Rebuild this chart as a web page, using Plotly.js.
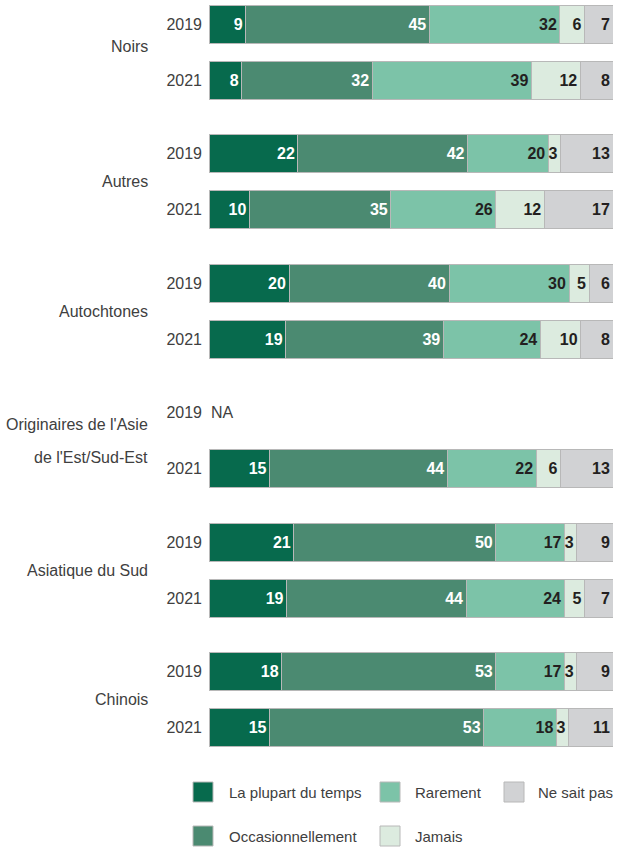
<!DOCTYPE html>
<html>
<head>
<meta charset="utf-8">
<script src="https://cdn.plot.ly/plotly-3.0.1.min.js"></script>
<style>html,body{margin:0;padding:0;background:#fff;}#chart{width:621px;height:848px;}</style>
</head>
<body>
<div id="chart"></div>
<script>
// ---- data ----
const groups = ["Noirs", "Autres", "Autochtones", "Originaires de l'Asie\nde l'Est/Sud-Est", "Asiatique du Sud", "Chinois"];
const years = ["2019", "2021"];
const seriesNames = ["La plupart du temps", "Occasionnellement", "Rarement", "Jamais", "Ne sait pas"];
// rows: group0-2019, group0-2021, group1-2019, ...
const plupart   = [9, 8, 22, 10, 20, 19, null, 15, 21, 19, 18, 15];
const occasion  = [45, 32, 42, 35, 40, 39, null, 44, 50, 44, 53, 53];
const rarement  = [32, 39, 20, 26, 30, 24, null, 22, 17, 24, 17, 18];
const jamais    = [6, 12, 3, 12, 5, 10, null, 6, 3, 5, 3, 3];
const neSaitPas = [7, 8, 13, 17, 6, 8, null, 13, 9, 7, 9, 11];
const naLabel = "NA";

// ---- style ----
const colors = ["#076a4d", "#4b8a71", "#7cc3a8", "#dcebdf", "#d1d2d4"];
const textColors = ["#ffffff", "#ffffff", "#231f20", "#231f20", "#231f20"];
const FONT = "'Liberation Sans Narrow', 'Liberation Sans', Arial, sans-serif";
const GROUP_STEP = 129.5, YEAR_STEP = 56, BAR_W = 38;

const rowPos = [];
const rowYear = [];
groups.forEach((g, gi) => years.forEach((y, yi) => { rowPos.push(gi * GROUP_STEP + yi * YEAR_STEP); rowYear.push(y); }));

const allSeries = [plupart, occasion, rarement, jamais, neSaitPas];
const traces = allSeries.map((vals, si) => ({
  type: 'bar', orientation: 'h', name: seriesNames[si],
  x: vals, y: rowPos, width: BAR_W,
  marker: {color: colors[si], line: {color: '#b8b8b8', width: 1}},
  text: vals.map(v => v == null ? '' : String(v)),
  texttemplate: '%{text}',
  textposition: 'inside', insidetextanchor: 'end', textangle: 0,
  constraintext: 'none',
  insidetextfont: {family: FONT, size: 16, color: textColors[si], weight: 'bold'},
  showlegend: false, hoverinfo: 'skip'
}));

// plot geometry (px)
const W = 621, H = 848, L = 209, R = 8, T = 0, B = 98;
const PW = W - L - R, PH = H - T - B;
const px2x = p => (p - L) / PW;
const py2y = p => (H - B - p) / PH;

const annotations = [];
const shapes = [];
groups.forEach((g, gi) => {
  const center = gi * GROUP_STEP + YEAR_STEP / 2 - (gi === 0 ? 6 : 0);
  const lines = g.split("\n");
  const spacing = 33;
  lines.forEach((ln, li) => {
    annotations.push({
      xref: 'paper', yref: 'y', x: px2x(150), y: center + (li - (lines.length - 1) / 2) * spacing,
      xanchor: 'right', yanchor: 'middle', text: ln, showarrow: false,
      font: {family: FONT, size: 16, color: '#404040'}
    });
  });
});
// NA label for missing rows
rowPos.forEach((p, i) => {
  if (plupart[i] == null) {
    annotations.push({xref: 'x', yref: 'y', x: 0, y: p, xanchor: 'left', yanchor: 'middle',
      text: naLabel, showarrow: false, font: {family: FONT, size: 16, color: '#404040'}});
  }
});

// custom legend (column-major, 3 columns)
const legCols = [[193, 227], [380, 413], [504, 536]];
const legRows = [792, 836];
const legOrder = [[0, 0], [1, 0], [0, 1], [1, 1], [0, 2]]; // [row, col] per series
seriesNames.forEach((n, si) => {
  const [r, c] = legOrder[si];
  const cy = legRows[r], sx = legCols[c][0];
  shapes.push({type: 'rect', xref: 'paper', yref: 'paper',
    x0: px2x(sx), x1: px2x(sx + 20), y0: py2y(cy - 10), y1: py2y(cy + 10),
    fillcolor: colors[si], line: {color: '#b8b8b8', width: 1}});
  annotations.push({xref: 'paper', yref: 'paper', x: px2x(legCols[c][1]), y: py2y(cy),
    xanchor: 'left', yanchor: 'middle', text: n, showarrow: false,
    font: {family: FONT, size: 15, color: '#404040'}});
});

const layout = {
  width: W, height: H,
  margin: {l: L, r: R, t: T, b: B, pad: 0},
  paper_bgcolor: '#fff', plot_bgcolor: '#fff',
  barmode: 'stack', barnorm: 'percent',
  showlegend: false,
  uniformtext: {mode: 'show', minsize: 16},
  xaxis: {range: [0, 100], visible: false, fixedrange: true},
  yaxis: {range: [PH - 24, -24], tickvals: rowPos, ticktext: rowYear, showgrid: false,
    zeroline: false, showline: false, ticks: '', ticklabelstandoff: 6,
    tickfont: {family: FONT, size: 16, color: '#404040'}},
  annotations: annotations, shapes: shapes,
  font: {family: FONT}
};

Plotly.newPlot('chart', traces, layout, {displayModeBar: false, staticPlot: true});
</script>
</body>
</html>
